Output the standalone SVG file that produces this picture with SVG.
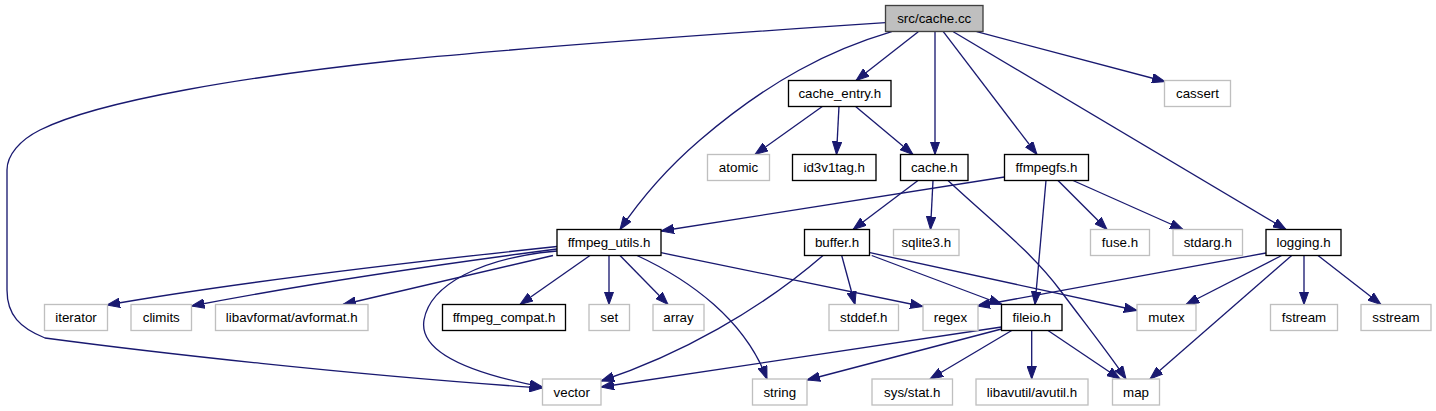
<svg xmlns="http://www.w3.org/2000/svg" width="1436" height="411" viewBox="0 0 1436 411">
<style>
rect{stroke-width:1.33}
.n rect{fill:#fff;stroke:#000}
.u rect{fill:#fff;stroke:#bfbfbf}
.r rect{fill:#bfbfbf;stroke:#404040}
text{font-family:"Liberation Sans",Arial,sans-serif;font-size:13.33px;fill:#000;text-anchor:middle}
#edges path{fill:none;stroke:#191970;stroke-width:1.33}
</style>
<defs>
<marker id="a" markerWidth="14" markerHeight="10" refX="13" refY="5" orient="auto" markerUnits="userSpaceOnUse">
<path d="M0,0.3 L13,5 L0,9.7 z" fill="#191970" stroke="#191970" stroke-width="1"/>
</marker>
</defs>
<rect width="1436" height="411" fill="#fff"/>
<g id="edges" marker-end="url(#a)">
<path d="M918.3,31.7 L856,80.5" marker-end="url(#a)"/>
<path d="M891.7,31.7 C830,50 770,80 700,140 C665,170 640,200 620,229.5" marker-end="url(#a)"/>
<path d="M935,31.7 L935,154.5" marker-end="url(#a)"/>
<path d="M943.3,31.7 L1037,154.5" marker-end="url(#a)"/>
<path d="M953.3,31.7 L1286,229.5" marker-end="url(#a)"/>
<path d="M976.7,31.7 L1165,81.5" marker-end="url(#a)"/>
<path d="M885.5,22.7 C700,35 500,50 400,60 C250,76 100,100 40,130 C20,140 7,155 7,170 L7,290 C7,315 20,328 45,338 C150,352 350,375 542.5,388" marker-end="url(#a)"/>
<path d="M823,106 L755,154.5" marker-end="url(#a)"/>
<path d="M839,106 L836.5,154.5" marker-end="url(#a)"/>
<path d="M855,106 L913,154.5" marker-end="url(#a)"/>
<path d="M918,180.5 L853,229.5" marker-end="url(#a)"/>
<path d="M933,180.5 L930.5,229.5" marker-end="url(#a)"/>
<path d="M948,180.5 C990,220 1030,250 1060,290 C1090,330 1110,355 1126,379" marker-end="url(#a)"/>
<path d="M1004.5,177 L661,231" marker-end="url(#a)"/>
<path d="M1046,180.5 L1035,304.5" marker-end="url(#a)"/>
<path d="M1058,180.5 L1107,229.5" marker-end="url(#a)"/>
<path d="M1073,180.5 L1183,229.5" marker-end="url(#a)"/>
<path d="M1266,253 L977,306" marker-end="url(#a)"/>
<path d="M1281.7,255.5 L1186,304.5" marker-end="url(#a)"/>
<path d="M1291.7,255.5 L1150,379" marker-end="url(#a)"/>
<path d="M1304,255.5 L1304,304.5" marker-end="url(#a)"/>
<path d="M1318,255.5 L1381,304.5" marker-end="url(#a)"/>
<path d="M557,246.5 C420,261 250,280 107,305" marker-end="url(#a)"/>
<path d="M557,249 C450,263 300,285 191.5,306" marker-end="url(#a)"/>
<path d="M553,255.5 L343,304.5" marker-end="url(#a)"/>
<path d="M557,251 C480,258 430,285 424,320 C418,355 480,375 542.5,387" marker-end="url(#a)"/>
<path d="M590,255.5 L520,304.5" marker-end="url(#a)"/>
<path d="M609,255.5 L609,304.5" marker-end="url(#a)"/>
<path d="M620,255.5 L668,304.5" marker-end="url(#a)"/>
<path d="M637,255.5 C690,280 745,320 767,379" marker-end="url(#a)"/>
<path d="M661,252.7 L923,306.5" marker-end="url(#a)"/>
<path d="M823,255.5 C760,310 680,355 601,381" marker-end="url(#a)"/>
<path d="M841.7,255.5 L855,304.5" marker-end="url(#a)"/>
<path d="M871.7,255.5 L1002,304.5" marker-end="url(#a)"/>
<path d="M870,252.7 L1137,310.5" marker-end="url(#a)"/>
<path d="M1001.5,327 L601,387" marker-end="url(#a)"/>
<path d="M1001.5,329 L807,380" marker-end="url(#a)"/>
<path d="M1011.7,330.5 L930,379" marker-end="url(#a)"/>
<path d="M1031.7,330.5 L1031.7,379" marker-end="url(#a)"/>
<path d="M1048,330.5 L1120,379" marker-end="url(#a)"/>
</g>
<g id="node_cache_cc" class="r"><rect x="885.5" y="5.5" width="97.5" height="26"/><text x="934.25" y="23.2">src/cache.cc</text></g>
<g id="node_cache_entry_h" class="n"><rect x="788.5" y="80.5" width="102.5" height="26"/><text x="839.75" y="98.2">cache_entry.h</text></g>
<g id="node_cassert" class="u"><rect x="1164.5" y="80.5" width="66" height="26"/><text x="1197.5" y="98.2">cassert</text></g>
<g id="node_atomic" class="u"><rect x="707.5" y="154.5" width="62" height="26"/><text x="738.5" y="172.2">atomic</text></g>
<g id="node_id3v1tag_h" class="n"><rect x="792.5" y="154.5" width="83.5" height="26"/><text x="834.25" y="172.2">id3v1tag.h</text></g>
<g id="node_cache_h" class="n"><rect x="900.5" y="154.5" width="67.5" height="26"/><text x="934.25" y="172.2">cache.h</text></g>
<g id="node_ffmpegfs_h" class="n"><rect x="1004.5" y="154.5" width="84" height="26"/><text x="1046.5" y="172.2">ffmpegfs.h</text></g>
<g id="node_ffmpeg_utils_h" class="n"><rect x="557" y="229.5" width="104" height="26"/><text x="609" y="247.2">ffmpeg_utils.h</text></g>
<g id="node_buffer_h" class="n"><rect x="804.5" y="229.5" width="65" height="26"/><text x="837" y="247.2">buffer.h</text></g>
<g id="node_sqlite3_h" class="u"><rect x="893.5" y="229.5" width="65.5" height="26"/><text x="926.25" y="247.2">sqlite3.h</text></g>
<g id="node_fuse_h" class="u"><rect x="1090.5" y="229.5" width="59" height="26"/><text x="1120" y="247.2">fuse.h</text></g>
<g id="node_stdarg_h" class="u"><rect x="1173" y="229.5" width="69.5" height="26"/><text x="1207.75" y="247.2">stdarg.h</text></g>
<g id="node_logging_h" class="n"><rect x="1266" y="229.5" width="75" height="26"/><text x="1303.5" y="247.2">logging.h</text></g>
<g id="node_iterator" class="u"><rect x="44.5" y="304.5" width="63" height="26"/><text x="76" y="322.2">iterator</text></g>
<g id="node_climits" class="u"><rect x="131" y="304.5" width="60.5" height="26"/><text x="161.25" y="322.2">climits</text></g>
<g id="node_avformat_h" class="u"><rect x="215.5" y="304.5" width="152.5" height="26"/><text x="291.75" y="322.2">libavformat/avformat.h</text></g>
<g id="node_ffmpeg_compat_h" class="n"><rect x="442.5" y="304.5" width="123" height="26"/><text x="504" y="322.2">ffmpeg_compat.h</text></g>
<g id="node_set" class="u"><rect x="589" y="304.5" width="40.5" height="26"/><text x="609.25" y="322.2">set</text></g>
<g id="node_array" class="u"><rect x="653" y="304.5" width="51" height="26"/><text x="678.5" y="322.2">array</text></g>
<g id="node_stddef_h" class="u"><rect x="829" y="304.5" width="69.5" height="26"/><text x="863.75" y="322.2">stddef.h</text></g>
<g id="node_regex" class="u"><rect x="923" y="304.5" width="55" height="26"/><text x="950.5" y="322.2">regex</text></g>
<g id="node_fileio_h" class="n"><rect x="1001.5" y="304.5" width="60.5" height="26"/><text x="1031.75" y="322.2">fileio.h</text></g>
<g id="node_mutex" class="u"><rect x="1137" y="304.5" width="59" height="26"/><text x="1166.5" y="322.2">mutex</text></g>
<g id="node_fstream" class="u"><rect x="1270.5" y="304.5" width="67" height="26"/><text x="1304" y="322.2">fstream</text></g>
<g id="node_sstream" class="u"><rect x="1361" y="304.5" width="70" height="26"/><text x="1396" y="322.2">sstream</text></g>
<g id="node_vector" class="u"><rect x="542.5" y="379" width="58.5" height="26"/><text x="571.75" y="396.7">vector</text></g>
<g id="node_string" class="u"><rect x="752.5" y="379" width="54.5" height="26"/><text x="779.75" y="396.7">string</text></g>
<g id="node_sys_stat_h" class="u"><rect x="872" y="379" width="80.5" height="26"/><text x="912.25" y="396.7">sys/stat.h</text></g>
<g id="node_avutil_h" class="u"><rect x="976" y="379" width="112" height="26"/><text x="1032" y="396.7">libavutil/avutil.h</text></g>
<g id="node_map" class="u"><rect x="1112.5" y="379" width="47" height="26"/><text x="1136" y="396.7">map</text></g>
</svg>
